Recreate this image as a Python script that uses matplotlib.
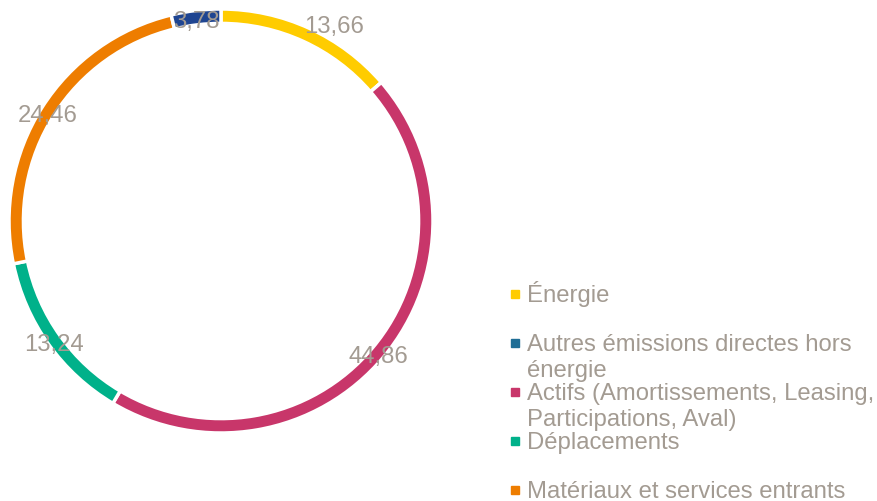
import matplotlib
matplotlib.use("Agg")
import matplotlib.pyplot as plt
import numpy as np

plt.rcParams['font.family'] = ['Liberation Sans', 'DejaVu Sans']

# ---- data ----
categories = ["Énergie",
              "Autres émissions directes hors\nénergie",
              "Actifs (Amortissements, Leasing,\nParticipations, Aval)",
              "Déplacements",
              "Matériaux et services entrants",
              "Déchets directs"]
values = [13.66, 0.0, 44.86, 13.24, 24.46, 3.78]
value_labels = ["13,66", "", "44,86", "13,24", "24,46", "3,78"]
colors = ["#FFCC00", "#1F6E96", "#C8366A", "#00B18A", "#EE7D00", "#1F4591"]

W, H = 878, 502
fig = plt.figure(figsize=(W / 100, H / 100), dpi=100)

cx, cy, R = 221, 222, 212  # pixel geometry of the ring
ax = fig.add_axes([(cx - R) / W, (H - cy - R) / H, 2 * R / W, 2 * R / H])

wedges, _ = ax.pie(values, colors=colors, startangle=90, counterclock=False,
                   radius=1.0,
                   wedgeprops=dict(width=0.068, edgecolor='white', linewidth=2.5))
ax.set_xlim(-1, 1)
ax.set_ylim(-1, 1)
ax.set_aspect('equal')
ax.axis('off')

txt_color = "#A39B92"
fs = 17.2
label_r = 0.967
label_dy = -0.018
label_offsets = [(0.13, 0.06), (0, 0), (0, 0), (0, 0), (0, 0), (0, 0)]
for w, lab, off in zip(wedges, value_labels, label_offsets):
    if not lab:
        continue
    ang = np.deg2rad((w.theta1 + w.theta2) / 2)
    x = label_r * np.cos(ang) + off[0]
    y = label_r * np.sin(ang) + off[1] + label_dy
    ax.text(x, y, lab, ha='center', va='center', fontsize=fs, color=txt_color)

# ---- legend (manual) ----
base0 = 302
step = 49
line_gap = 26.5
for i, (cat, col) in enumerate(zip(categories, colors)):
    by = base0 + step * i
    fig.patches.append(plt.Rectangle(((511) / W, (H - (by - 3)) / H), 8 / W, 8 / H,
                                     transform=fig.transFigure, color=col,
                                     figure=fig))
    for j, line in enumerate(cat.split("\n")):
        yy = by + j * line_gap
        fig.text(527 / W, (H - yy) / H, line, ha='left', va='baseline',
                 fontsize=fs, color=txt_color)

fig.savefig("out.png", dpi=100)
